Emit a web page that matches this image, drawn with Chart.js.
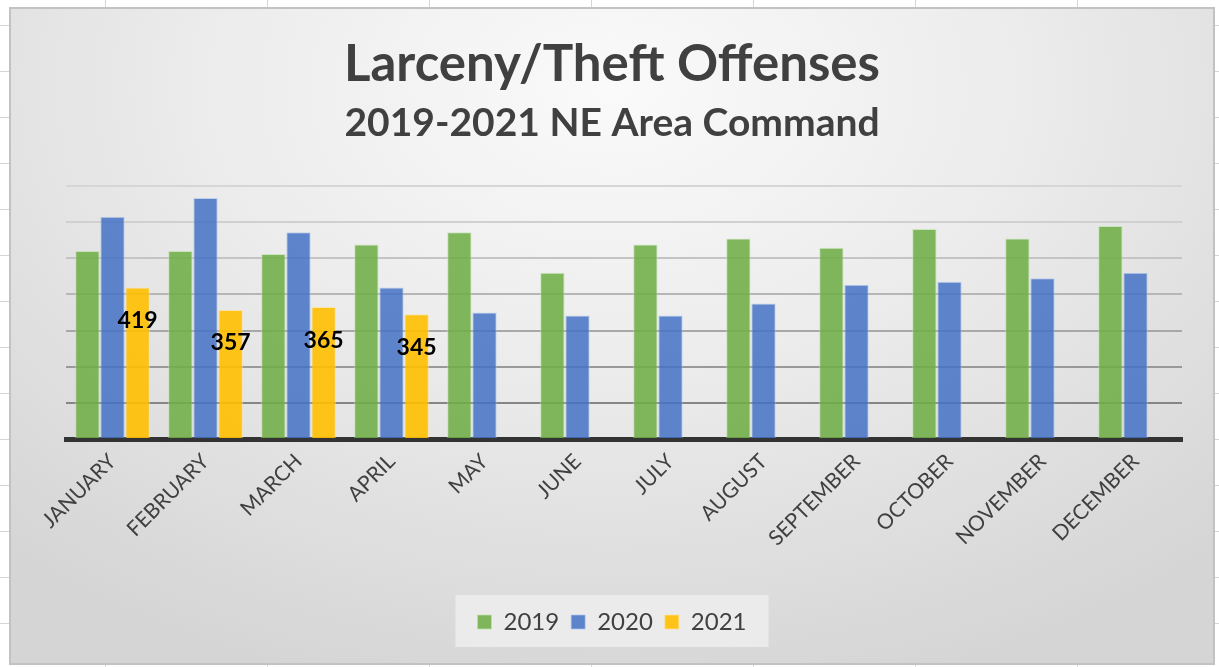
<!DOCTYPE html>
<html>
<head>
<meta charset="utf-8">
<script src="https://cdn.jsdelivr.net/npm/chart.js@4.4.1/dist/chart.umd.min.js"></script>
<style>
    html, body {
        margin: 0;
        padding: 0;
        width: 1219px;
        height: 667px;
        overflow: hidden;
    }
    body {
        background-color: #ffffff;
        background-image:
            repeating-linear-gradient(to right, transparent 0 161px, #d4d4d4 161px 162px),
            repeating-linear-gradient(to bottom, transparent 0 45px, #d4d4d4 45px 46px);
        background-position: -56px 0, 0 -20px;
    }
    .box {
        position: absolute;
        left: 9px;
        top: 7px;
        width: 1206px;
        height: 658px;
        box-sizing: border-box;
        border: 2px solid #c2c2c2;
        background: radial-gradient(ellipse 75% 95% at 50% 12%, #fafafa 0%, #ececec 45%, #d5d5d5 100%);
    }
    .chart-wrap {
        position: relative;
        width: 1202px;
        height: 654px;
    }
</style>
</head>
<body>
<div class="box">
    <div class="chart-wrap">
        <canvas id="theftChart"></canvas>
    </div>
</div>
<script>
const months = ['JANUARY', 'FEBRUARY', 'MARCH', 'APRIL', 'MAY', 'JUNE',
    'JULY', 'AUGUST', 'SEPTEMBER', 'OCTOBER', 'NOVEMBER', 'DECEMBER'];
const years = ['2019', '2020', '2021'];
const offenses2019 = [520, 520, 512, 538, 572, 460, 538, 555, 529, 581, 555, 589];
const offenses2020 = [615, 667, 572, 419, 350, 342, 342, 375, 427, 435, 445, 460];
const offenses2021 = [419, 357, 365, 345, null, null, null, null, null, null, null, null];

const textColor = '#404040';
const fontName = 'Lato, "Open Sans", sans-serif';

// gridlines get lighter towards the top
const gridColors = ['#7a7a7a', '#868686', '#999999', '#a8a8a8', '#b6b6b6', '#c4c4c4', '#d0d0d0', '#d6d6d6'];

// grey panel behind the legend items
const legendBackground = {
    id: 'legendBackground',
    beforeDraw(chart) {
        const boxes = chart.legend && chart.legend.legendHitBoxes;
        if (!boxes || !boxes.length) return;
        const left = Math.min(...boxes.map(b => b.left));
        const right = Math.max(...boxes.map(b => b.left + b.width));
        const top = Math.min(...boxes.map(b => b.top));
        const bottom = Math.max(...boxes.map(b => b.top + b.height));
        const ctx = chart.ctx;
        ctx.save();
        ctx.fillStyle = 'rgba(240, 240, 240, 0.75)';
        ctx.fillRect(left - 22, top - 15, right - left + 44, bottom - top + 28);
        ctx.restore();
    }
};

// value labels on the 2021 bars
const barLabels = {
    id: 'barLabels',
    afterDatasetsDraw(chart) {
        const ctx = chart.ctx;
        const meta = chart.getDatasetMeta(2);
        ctx.save();
        ctx.font = 'bold 23px ' + fontName;
        ctx.fillStyle = '#000000';
        ctx.textAlign = 'center';
        ctx.textBaseline = 'middle';
        meta.data.forEach((bar, i) => {
            const value = offenses2021[i];
            if (value === null) return;
            ctx.fillText(String(value), bar.x, bar.y + 33);
        });
        ctx.restore();
    }
};

const ctx = document.getElementById('theftChart').getContext('2d');
new Chart(ctx, {
    type: 'bar',
    data: {
        labels: months,
        datasets: [
            {
                label: years[0],
                data: offenses2019,
                backgroundColor: 'rgba(112, 173, 71, 0.88)',
                borderColor: 'rgba(190, 225, 170, 0.7)',
                borderWidth: 1
            },
            {
                label: years[1],
                data: offenses2020,
                backgroundColor: 'rgba(68, 114, 196, 0.85)',
                borderColor: 'rgba(170, 195, 235, 0.7)',
                borderWidth: 1
            },
            {
                label: years[2],
                data: offenses2021,
                backgroundColor: 'rgba(255, 192, 0, 0.9)',
                borderColor: 'rgba(255, 225, 150, 0.7)',
                borderWidth: 1
            }
        ]
    },
    options: {
        responsive: true,
        maintainAspectRatio: false,
        animation: false,
        datasets: {
            bar: {
                categoryPercentage: 0.81,
                barPercentage: 0.97
            }
        },
        layout: {
            padding: { left: 31, right: 31, top: 0, bottom: 19 }
        },
        plugins: {
            title: {
                display: true,
                text: 'Larceny/Theft Offenses',
                color: textColor,
                font: { family: fontName, size: 51, weight: 'bold' },
                padding: { top: 25, bottom: 5 }
            },
            subtitle: {
                display: true,
                text: '2019-2021 NE Area Command',
                color: textColor,
                font: { family: fontName, size: 39, weight: 'bold' },
                padding: { top: 0, bottom: 39 }
            },
            legend: {
                position: 'bottom',
                labels: {
                    color: textColor,
                    font: { family: fontName, size: 24 },
                    boxWidth: 14,
                    boxHeight: 14,
                    padding: 12
                }
            },
            tooltip: { enabled: false }
        },
        scales: {
            x: {
                afterFit: scale => {
                    scale.height = 159;
                    scale.paddingLeft = 0;
                    scale.paddingRight = 0;
                },
                grid: { display: false, drawTicks: false },
                border: { display: true, color: '#333333', width: 5 },
                ticks: {
                    color: textColor,
                    font: { family: fontName, size: 21 },
                    maxRotation: 45,
                    minRotation: 45,
                    padding: 10
                }
            },
            y: {
                min: 0,
                max: 700,
                afterFit: scale => { scale.width = 24; },
                ticks: { display: false, stepSize: 100 },
                border: { display: false },
                grid: {
                    drawTicks: false,
                    lineWidth: 2,
                    color: c => gridColors[c.index] || '#d0d0d0'
                }
            }
        }
    },
    plugins: [legendBackground, barLabels]
});
</script>
</body>
</html>
